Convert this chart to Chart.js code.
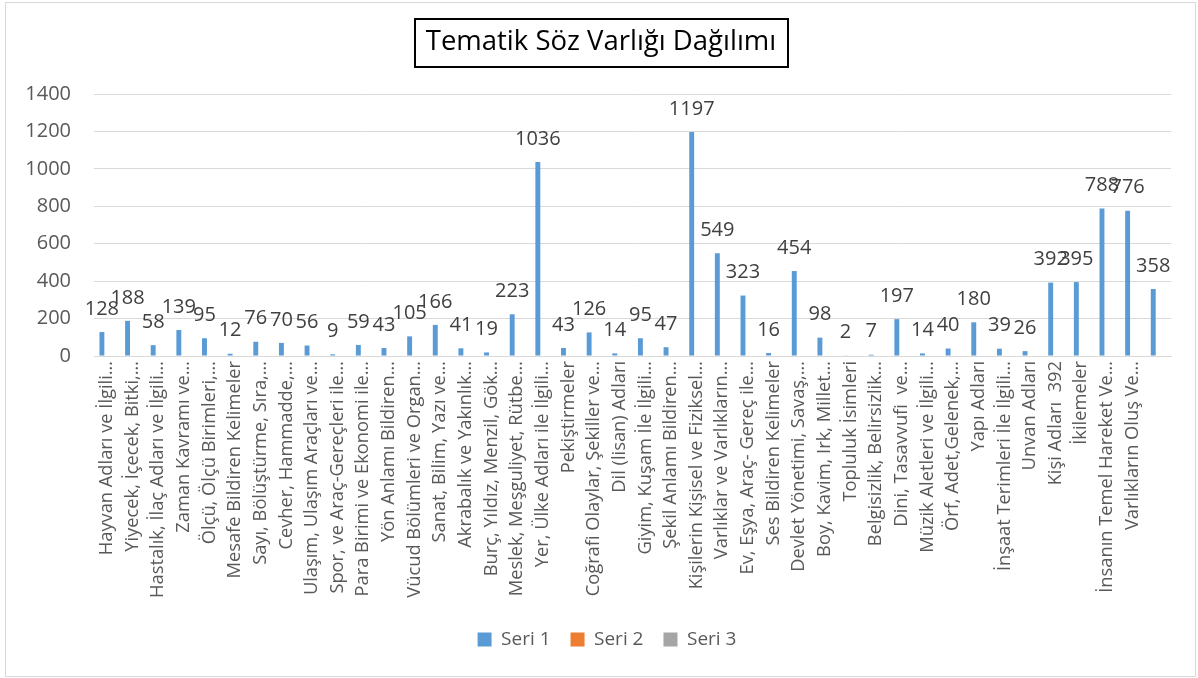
<!DOCTYPE html>
<html>
<head>
<meta charset="utf-8">
<script src="https://cdn.jsdelivr.net/npm/chart.js@4/dist/chart.umd.min.js"></script>
<style>
  html, body { margin: 0; padding: 0; background: #ffffff; }
  #wrap { width: 1198px; height: 678px; position: relative; }
</style>
</head>
<body>
<div id="wrap"><canvas id="c" width="1198" height="678"></canvas></div>
<script>
const chartTitle = "Tematik Söz Varlığı Dağılımı";

const categories = [
  "Hayvan Adları ve İlgili…",
  "Yiyecek, İçecek, Bitki,…",
  "Hastalık, İlaç Adları ve İlgili…",
  "Zaman Kavramı ve…",
  "Ölçü, Ölçü Birimleri,…",
  "Mesafe Bildiren Kelimeler",
  "Sayı, Bölüştürme, Sıra,…",
  "Cevher, Hammadde,…",
  "Ulaşım, Ulaşım Araçları ve…",
  "Spor, ve Araç-Gereçleri ile…",
  "Para Birimi ve Ekonomi ile…",
  "Yön Anlamı Bildiren…",
  "Vücud Bölümleri ve Organ…",
  "Sanat, Bilim, Yazı ve…",
  "Akrabalık ve Yakınlık…",
  "Burç, Yıldız, Menzil, Gök…",
  "Meslek, Meşguliyet, Rütbe…",
  "Yer, Ülke Adları ile İlgili…",
  "Pekiştirmeler",
  "Coğrafi Olaylar, Şekiller ve…",
  "Dil (lisan) Adları",
  "Giyim, Kuşam İle İlgili…",
  "Şekil Anlamı Bildiren…",
  "Kişilerin Kişisel ve Fiziksel…",
  "Varlıklar ve Varlıkların…",
  "Ev, Eşya, Araç- Gereç ile…",
  "Ses Bildiren Kelimeler",
  "Devlet Yönetimi, Savaş,…",
  "Boy, Kavim, Irk, Millet…",
  "Topluluk İsimleri",
  "Belgisizlik, Belirsizlik…",
  "Dini, Tasavvufi  ve…",
  "Müzik Aletleri ve İlgili…",
  "Örf, Adet,Gelenek,…",
  "Yapı Adları",
  "İnşaat Terimleri İle İlgili…",
  "Unvan Adları",
  "Kişi Adları  392",
  "İkilemeler",
  "İnsanın Temel Hareket Ve…",
  "Varlıkların Oluş Ve…",
  ""
];

const seri1Values = [
  128, 188, 58, 139, 95, 12, 76, 70, 56, 9,
  59, 43, 105, 166, 41, 19, 223, 1036, 43, 126,
  14, 95, 47, 1197, 549, 323, 16, 454, 98, 2,
  7, 197, 14, 40, 180, 39, 26, 392, 395, 788,
  776, 358
];
const seri2Values = [];
const seri3Values = [];

const seriesNames = ["Seri 1", "Seri 2", "Seri 3"];
const yTicks = [0, 200, 400, 600, 800, 1000, 1200, 1400];

const FONT = "'Open Sans', 'DejaVu Sans', sans-serif";
const TITLE_SIZE = 27.5;
const TITLE_PAD_TOP = 26;

const decorPlugin = {
  id: 'decor',
  afterLayout(chart) {
    // centre title and legend like the reference (box spans 31..1171)
    if (chart.titleBlock) chart.titleBlock.left = 31;
    if (chart.legend) chart.legend.left = 43;
  },
  beforeDraw(chart) {
    const ctx = chart.ctx;
    ctx.save();
    ctx.fillStyle = '#ffffff';
    ctx.fillRect(0, 0, chart.width, chart.height);
    ctx.restore();
  },
  afterDraw(chart) {
    const ctx = chart.ctx;
    ctx.save();
    // outer frame
    ctx.strokeStyle = '#d9d9d9';
    ctx.lineWidth = 1;
    ctx.strokeRect(5.5, 2.5, 1190, 674);
    // title box
    const tb = chart.titleBlock;
    ctx.font = TITLE_SIZE + "px " + FONT;
    const w = ctx.measureText(chartTitle).width;
    const cx = (tb.left + tb.right) / 2;
    const cy = tb.top + TITLE_PAD_TOP + TITLE_SIZE * 1.2 / 2;
    ctx.strokeStyle = '#000000';
    ctx.lineWidth = 2;
    ctx.strokeRect(Math.round(cx - w / 2 - 11), Math.round(cy - 24), Math.round(w + 22), 48);
    ctx.restore();
  },
  afterDatasetsDraw(chart) {
    const ctx = chart.ctx;
    const meta = chart.getDatasetMeta(0);
    ctx.save();
    ctx.font = "20px " + FONT;
    ctx.fillStyle = '#404040';
    ctx.textAlign = 'center';
    ctx.textBaseline = 'middle';
    meta.data.forEach((bar, i) => {
      const v = chart.data.datasets[0].data[i];
      if (v === null || v === undefined) return;
      ctx.fillText(String(v), bar.x, bar.y - 23);
    });
    ctx.restore();
  }
};

new Chart(document.getElementById('c'), {
  type: 'bar',
  data: {
    labels: categories,
    datasets: [
      { label: seriesNames[0], data: seri1Values, backgroundColor: '#5B9BD5' },
      { label: seriesNames[1], data: seri2Values, backgroundColor: '#ED7D31' },
      { label: seriesNames[2], data: seri3Values, backgroundColor: '#A5A5A5' }
    ]
  },
  options: {
    responsive: false,
    animation: false,
    devicePixelRatio: 1,
    categoryPercentage: 0.575,
    barPercentage: 1.0,
    layout: { padding: { left: 5, right: 27, top: 0, bottom: 19 } },
    plugins: {
      title: {
        display: true,
        text: chartTitle,
        color: '#000000',
        font: { family: FONT, size: TITLE_SIZE, weight: 'normal', lineHeight: 1.2 },
        padding: { top: TITLE_PAD_TOP, bottom: 35 }
      },
      legend: {
        display: true,
        position: 'bottom',
        labels: {
          color: '#595959',
          font: { family: FONT, size: 19 },
          boxWidth: 14,
          boxHeight: 14,
          padding: 20
        }
      },
      tooltip: { enabled: false }
    },
    scales: {
      x: {
        grid: { display: false, drawTicks: false },
        border: { display: true, color: '#d9d9d9', width: 1 },
        ticks: {
          autoSkip: false,
          maxRotation: 90,
          minRotation: 90,
          padding: 5,
          color: '#595959',
          font: { family: FONT, size: 18.3 }
        },
        afterFit(scale) { scale.height = 254; }
      },
      y: {
        min: 0,
        max: 1400,
        afterBuildTicks(scale) { scale.ticks = yTicks.map(v => ({ value: v })); },
        grid: { color: '#d9d9d9', drawTicks: false, lineWidth: 1 },
        border: { display: false },
        ticks: {
          padding: 23,
          color: '#595959',
          font: { family: FONT, size: 20 },
          callback: (v) => String(v)
        },
        afterFit(scale) { scale.width = 89; }
      }
    }
  },
  plugins: [decorPlugin]
});
</script>
</body>
</html>
